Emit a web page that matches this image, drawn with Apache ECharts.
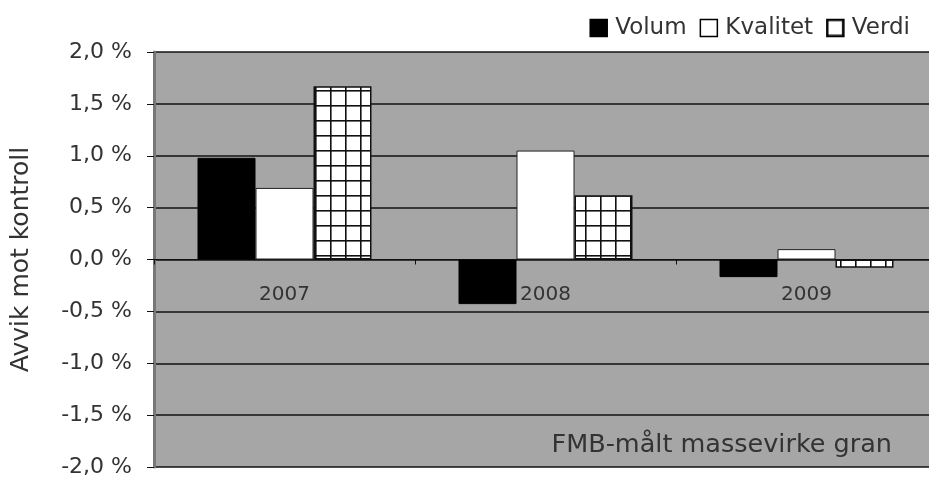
<!DOCTYPE html>
<html><head><meta charset="utf-8">
<script src="https://cdn.jsdelivr.net/npm/echarts@6/dist/echarts.min.js"></script>
<style>html,body{margin:0;padding:0;background:#fff}#c{width:929px;height:482px}</style>
</head><body><div id="c"></div>
<script>
const categories = ['2007', '2008', '2009'];
const volum = [0.98, -0.43, -0.17];
const kvalitet = [0.69, 1.05, 0.10];
const verdi = [1.67, 0.62, -0.08];
const seriesNames = ['Volum', 'Kvalitet', 'Verdi'];
const yTicks = [-2, -1.5, -1, -0.5, 0, 0.5, 1, 1.5, 2];

function makePattern() {
  const c = document.createElement('canvas');
  c.width = 15; c.height = 15;
  const ctx = c.getContext('2d');
  ctx.fillStyle = '#ffffff';
  ctx.fillRect(0, 0, 15, 15);
  ctx.fillStyle = '#111111';
  ctx.fillRect(0, 0, 15, 1.6);
  ctx.fillRect(0, 0, 1.6, 15);
  return c;
}
const pat = makePattern();

const chart = echarts.init(document.getElementById('c'), null, {renderer: 'canvas'});
const font = 'DejaVu Sans, Verdana, sans-serif';
const txt = '#333';
chart.setOption({
  animation: false,
  backgroundColor: '#ffffff',
  textStyle: {fontFamily: font},
  legend: {
    right: 19, top: 14, padding: 0,
    icon: 'rect',
    itemWidth: 17, itemHeight: 17, itemGap: 13,
    textStyle: {fontSize: 23, lineHeight: 28, color: txt, fontFamily: font, padding: [0, 0, 0, 3]},
    data: seriesNames.map(n => ({name: n, itemStyle: {borderColor: '#000', borderWidth: 1.5}}))
  },
  grid: {left: 154, right: -8, top: 52, bottom: 15, show: true, backgroundColor: '#a6a6a6', borderWidth: 0, outerBoundsMode: 'none', containLabel: false},
  xAxis: {
    type: 'category', data: categories,
    axisLine: {onZero: true, lineStyle: {color: '#111', width: 1}},
    axisTick: {show: true, length: 5, lineStyle: {color: '#111'}},
    axisLabel: {margin: -182, fontSize: 20, color: txt, fontFamily: font},
    splitLine: {show: false}
  },
  yAxis: {
    type: 'value', min: yTicks[0], max: yTicks[yTicks.length - 1], interval: 0.5,
    name: 'Avvik mot kontroll', nameLocation: 'middle', nameGap: 120, nameRotate: 90,
    nameTextStyle: {fontSize: 25, color: txt, fontFamily: font},
    axisLine: {show: true, lineStyle: {color: '#777', width: 3}},
    axisTick: {show: true, length: 7, lineStyle: {color: '#111'}},
    axisLabel: {
      fontSize: 22, color: txt, margin: 22, fontFamily: font,
      formatter: v => v.toFixed(1).replace('.', ',') + ' %'
    },
    splitLine: {show: true, lineStyle: {color: '#111', width: 1.5}}
  },
  series: [
    {name: seriesNames[0], type: 'bar', data: volum, barWidth: 58, barGap: '0%',
     itemStyle: {color: '#000', borderColor: '#000', borderWidth: 1}},
    {name: seriesNames[1], type: 'bar', data: kvalitet, barWidth: 58, barGap: '0%',
     itemStyle: {color: '#fff', borderColor: '#222', borderWidth: 1}},
    {name: seriesNames[2], type: 'bar', data: verdi, barWidth: 58, barGap: '0%',
     itemStyle: {color: {image: pat, repeat: 'repeat'}, borderColor: '#111', borderWidth: 1.5}}
  ],
  graphic: [{
    type: 'text', right: 37, top: 432,
    style: {text: 'FMB-målt massevirke gran', fontSize: 25.5, fill: txt, fontFamily: font}
  }]
});
</script></body></html>
